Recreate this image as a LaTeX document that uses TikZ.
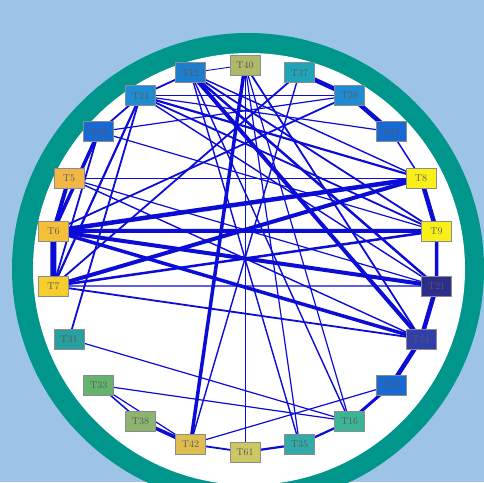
\documentclass[tikz,border=0pt]{standalone}
\pgfdeclarelayer{bg}
\pgfdeclarelayer{edges}
\pgfsetlayers{bg,edges,main}
\definecolor{bgblue}{RGB}{157,195,230}
\definecolor{ringteal}{RGB}{0,150,140}
\definecolor{edgeblue}{RGB}{12,12,215}
\definecolor{cOlive}{RGB}{175,185,105}
\definecolor{cBlueA}{RGB}{30,125,205}
\definecolor{cTealA}{RGB}{30,165,185}
\definecolor{cBlueB}{RGB}{30,140,210}
\definecolor{cBlueC}{RGB}{25,105,210}
\definecolor{cOrange}{RGB}{242,182,72}
\definecolor{cYellow}{RGB}{250,240,25}
\definecolor{cGold}{RGB}{245,192,55}
\definecolor{cGoldB}{RGB}{245,205,45}
\definecolor{cNavy}{RGB}{45,45,140}
\definecolor{cTealB}{RGB}{40,160,160}
\definecolor{cIndigo}{RGB}{50,62,170}
\definecolor{cGreen}{RGB}{100,180,110}
\definecolor{cSage}{RGB}{140,180,110}
\definecolor{cSea}{RGB}{60,180,150}
\definecolor{cSand}{RGB}{222,190,80}
\definecolor{cTealC}{RGB}{50,170,170}
\definecolor{cKhaki}{RGB}{205,200,100}
\tikzset{
  tnode/.style={draw=black!45, line width=0.7pt, minimum width=30pt, minimum height=20pt,
    inner sep=0pt, font=\fontsize{10}{11}\selectfont, text=black!65},
  edgeline/.style={draw=edgeblue, line width=#1, line cap=round}
}
\begin{document}
\begin{tikzpicture}[x=1pt,y=1pt]
\useasboundingbox (0,0) rectangle (484,482);
\begin{pgfonlayer}{bg}
\fill[bgblue] (0,0) rectangle (484,482);
\begin{scope}
\clip (0,0) rectangle (484,482);
\fill[ringteal] (248,213) circle (236);
\fill[white] (249,213) circle (216);
\end{scope}
\end{pgfonlayer}
\foreach \k/\lab/\col [evaluate=\k as \ang using 90+\k*360/22] in
 {0/T40/cOlive, 1/T12/cBlueA, 2/T24/cBlueB, 3/T28/cBlueC, 4/T5/cOrange, 5/T6/cGold,
  6/T7/cGoldB, 7/T31/cTealB, 8/T33/cGreen, 9/T38/cSage, 10/T42/cSand, 11/T61/cKhaki,
  12/T35/cTealC, 13/T16/cSea, 14/T13/cBlueC, 15/T14/cIndigo, 16/T21/cNavy, 17/T9/cYellow,
  18/T8/cYellow, 19/T17/cBlueC, 20/T39/cBlueB, 21/T37/cTealA}
 \node[tnode, fill=\col] (\lab) at ([shift={(245,223.5)}]\ang:193.5) {\lab};
\begin{pgfonlayer}{edges}
\foreach \a/\b/\w in
 {T40/T12/0.9, T12/T24/1.8, T24/T28/1.8, T28/T6/3.5, T5/T6/4, T6/T7/6,
  T37/T39/4.5, T39/T17/4.5, T17/T8/1.5, T8/T9/4.5, T9/T21/3.5, T21/T14/4.5, T14/T13/4.5,
  T13/T16/3, T16/T35/2.2, T35/T61/2.2, T61/T42/1.8, T42/T38/3.5, T38/T33/1.5,
  T6/T8/4.5, T6/T9/4, T6/T21/4, T6/T14/3.5, T7/T8/4, T7/T9/2.5, T7/T21/1.2,
  T7/T14/1.8, T12/T14/4, T40/T42/3.5, T40/T61/0.9, T12/T21/2.5, T12/T9/1.8,
  T12/T16/1.4, T12/T35/1.4, T24/T8/2.2, T24/T9/1.8, T24/T39/1.4, T24/T31/1.8,
  T24/T21/1.4, T39/T6/1.8, T37/T7/1.8, T5/T8/1.2, T5/T14/1.4, T31/T16/1.2,
  T33/T16/1.2, T33/T42/1.2, T13/T42/1.2, T40/T16/1.2, T28/T9/1.2, T17/T24/1.2,
  T24/T7/2.2, T28/T7/1.8, T28/T39/1.2, T40/T14/1.8, T37/T42/1.4, T12/T8/1.4,
  T5/T21/1.2, T40/T35/1.2}
 \draw[edgeline=\w pt] (\a.center) -- (\b.center);
\end{pgfonlayer}
\end{tikzpicture}
\end{document}
